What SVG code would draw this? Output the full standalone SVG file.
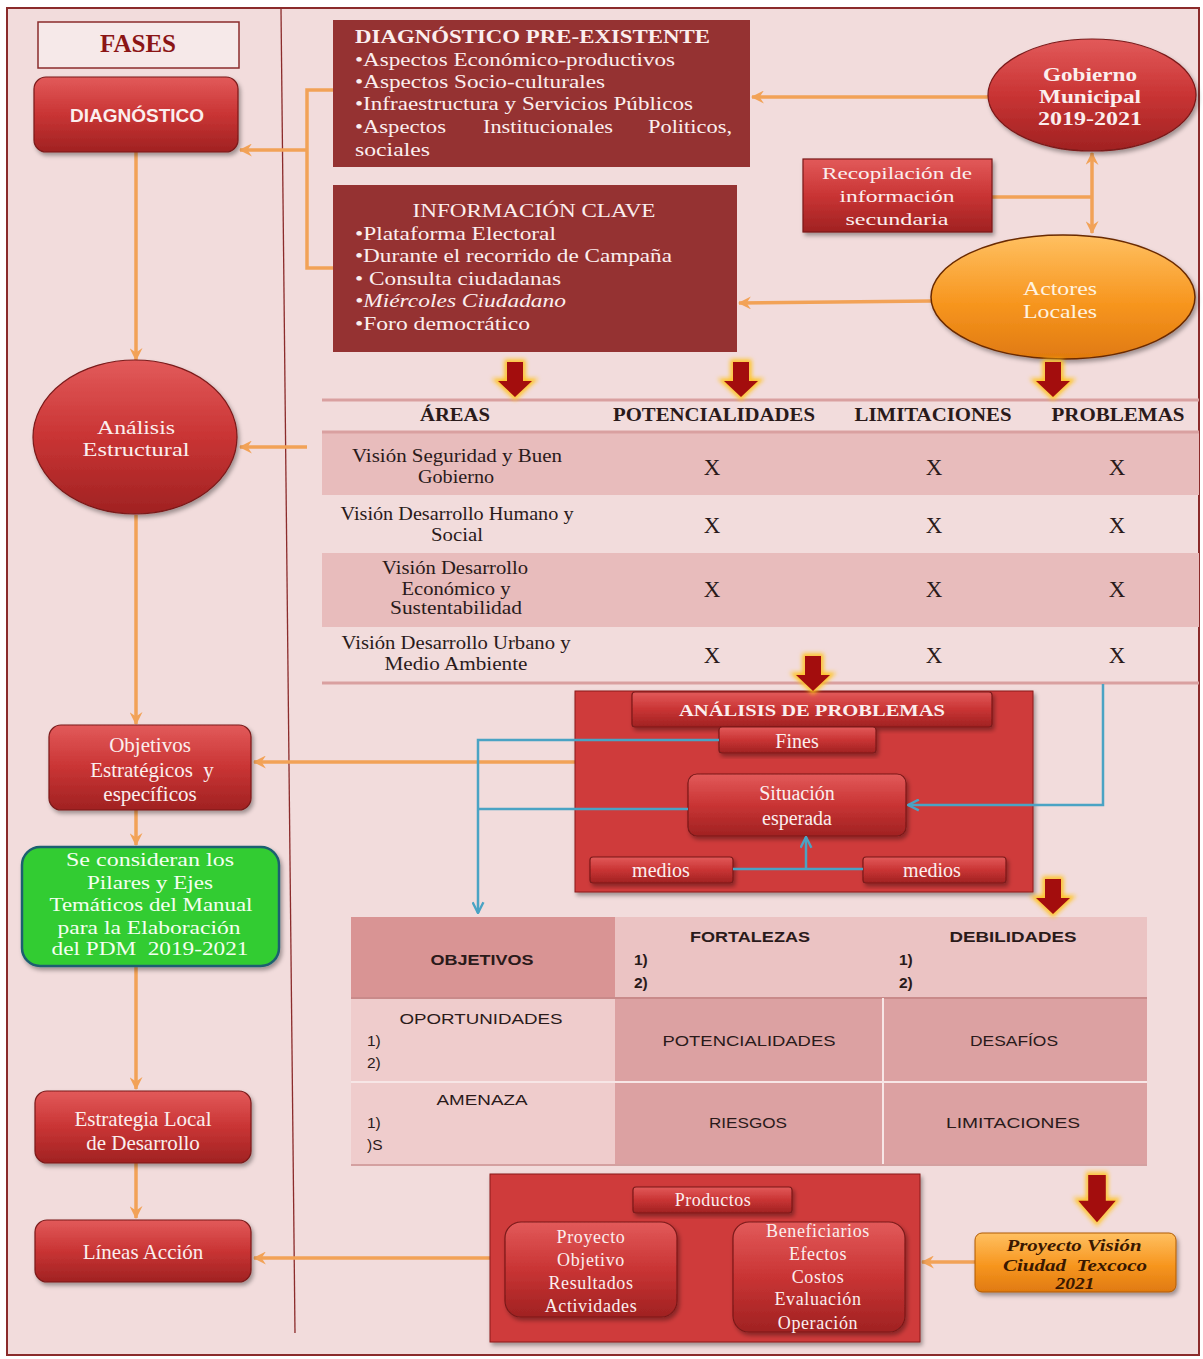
<svg xmlns="http://www.w3.org/2000/svg" xmlns:xlink="http://www.w3.org/1999/xlink" width="1203" height="1359" viewBox="0 0 1203 1359">
<style>
.serif{font-family:"Liberation Serif","DejaVu Serif",serif;}
.sans{font-family:"Liberation Sans","DejaVu Sans",sans-serif;}
.wt{fill:#fbeeee;}
.dk{fill:#2a1a1a;}
.c{text-anchor:middle;}
.or{stroke:#f2a257;stroke-width:3.5;fill:none;}
.bl{stroke:#4aa3c4;stroke-width:2.5;fill:none;}
.node{fill:url(#redG);stroke:#7a1a1a;stroke-width:1.2;filter:url(#sh);}
.dbox{fill:#953232;}
.row{fill:#e8bcbc;}
.hl{stroke:#d9a0a0;stroke-width:3;}
</style>
<defs>
<linearGradient id="redG" x1="0" y1="0" x2="0" y2="1">
<stop offset="0" stop-color="#e25a5a"/>
<stop offset="0.5" stop-color="#c93434"/>
<stop offset="1" stop-color="#a02222"/>
</linearGradient>
<linearGradient id="orG" x1="0" y1="0" x2="0" y2="1">
<stop offset="0" stop-color="#ffc061"/>
<stop offset="0.55" stop-color="#f7961f"/>
<stop offset="1" stop-color="#e07a10"/>
</linearGradient>
<filter id="sh" x="-10%" y="-10%" width="125%" height="130%">
<feDropShadow dx="2" dy="3" stdDeviation="2" flood-color="#000" flood-opacity="0.35"/>
</filter>
<filter id="glow" x="-50%" y="-50%" width="200%" height="200%">
<feGaussianBlur stdDeviation="2"/>
</filter>
<marker id="ao" viewBox="0 0 12 12" refX="11" refY="6" markerWidth="13" markerHeight="13" markerUnits="userSpaceOnUse" orient="auto">
<path d="M0,0 L12,6 L0,12 L4,6 Z" fill="#f2a257"/>
</marker>
<marker id="ab" viewBox="0 0 12 12" refX="11" refY="6" markerWidth="13" markerHeight="13" markerUnits="userSpaceOnUse" orient="auto">
<path d="M1,1 L11,6 L1,11" fill="none" stroke="#4aa3c4" stroke-width="2.2"/>
</marker>
<path id="darr" d="M-8,0 H8 V19 H17 L0,35 L-17,19 H-8 Z"/>
</defs>

<rect x="0" y="0" width="1203" height="1359" fill="#ffffff"/>
<rect id="frame" x="7" y="8" width="1192" height="1347" fill="#f2dcdc" stroke="#8b2b2b" stroke-width="2"/>
<line x1="281" y1="9" x2="295" y2="1333" stroke="#8b2b2b" stroke-width="1.3"/>

<!-- table A -->
<g id="table-areas">
<rect class="row" x="322" y="433" width="877" height="62"/>
<rect class="row" x="322" y="553" width="877" height="74"/>
<line class="hl" x1="322" y1="400" x2="1199" y2="400"/>
<line class="hl" x1="322" y1="432" x2="1199" y2="432"/>
<line class="hl" x1="322" y1="683" x2="1199" y2="683"/>
<g class="serif dk" font-weight="bold" font-size="18">
<text class="c" x="455" y="421" textLength="70" lengthAdjust="spacingAndGlyphs">ÁREAS</text>
<text class="c" x="714" y="421" textLength="202" lengthAdjust="spacingAndGlyphs">POTENCIALIDADES</text>
<text class="c" x="933" y="421" textLength="157" lengthAdjust="spacingAndGlyphs">LIMITACIONES</text>
<text class="c" x="1118" y="421" textLength="133" lengthAdjust="spacingAndGlyphs">PROBLEMAS</text>
</g>
<g class="serif dk c" font-size="18">
<text x="457" y="462" textLength="210" lengthAdjust="spacingAndGlyphs">Visión Seguridad y Buen</text>
<text x="456" y="483" textLength="76" lengthAdjust="spacingAndGlyphs">Gobierno</text>
<text x="457" y="520" textLength="233" lengthAdjust="spacingAndGlyphs">Visión Desarrollo Humano y</text>
<text x="457" y="541" textLength="52" lengthAdjust="spacingAndGlyphs">Social</text>
<text x="455" y="574" textLength="146" lengthAdjust="spacingAndGlyphs">Visión Desarrollo</text>
<text x="456" y="595" textLength="109" lengthAdjust="spacingAndGlyphs">Económico y</text>
<text x="456" y="614" textLength="132" lengthAdjust="spacingAndGlyphs">Sustentabilidad</text>
<text x="456" y="649" textLength="229" lengthAdjust="spacingAndGlyphs">Visión Desarrollo Urbano y</text>
<text x="456" y="670" textLength="143" lengthAdjust="spacingAndGlyphs">Medio Ambiente</text>
</g>
<g class="serif dk c" font-size="23">
<text x="712" y="475">X</text><text x="934" y="475">X</text><text x="1117" y="475">X</text>
<text x="712" y="533">X</text><text x="934" y="533">X</text><text x="1117" y="533">X</text>
<text x="712" y="597">X</text><text x="934" y="597">X</text><text x="1117" y="597">X</text>
<text x="712" y="663">X</text><text x="934" y="663">X</text><text x="1117" y="663">X</text>
</g>
</g>

<!-- SWOT table -->
<g id="table-foda">
<rect x="351" y="917" width="264" height="81" fill="#d99494"/>
<rect x="615" y="917" width="532" height="81" fill="#ebc3c3"/>
<rect x="351" y="998" width="264" height="167" fill="#efcccc"/>
<rect x="615" y="998" width="532" height="167" fill="#dca1a2"/>
<line x1="351" y1="998" x2="1147" y2="998" stroke="#c98a8a" stroke-width="2"/>
<line x1="351" y1="1082" x2="1147" y2="1082" stroke="#f7e6e6" stroke-width="2"/>
<line x1="883" y1="998" x2="883" y2="1165" stroke="#f7e6e6" stroke-width="2"/>
<line x1="351" y1="1165" x2="1147" y2="1165" stroke="#d4a0a0" stroke-width="2"/>
<g class="sans dk" font-size="15.5">
<text class="c" x="482" y="965" font-weight="bold" textLength="103" lengthAdjust="spacingAndGlyphs">OBJETIVOS</text>
<text class="c" x="750" y="942" font-weight="bold" textLength="120" lengthAdjust="spacingAndGlyphs">FORTALEZAS</text>
<text x="634" y="965" font-weight="bold">1)</text>
<text x="634" y="988" font-weight="bold">2)</text>
<text class="c" x="1013" y="942" font-weight="bold" textLength="127" lengthAdjust="spacingAndGlyphs">DEBILIDADES</text>
<text x="899" y="965" font-weight="bold">1)</text>
<text x="899" y="988" font-weight="bold">2)</text>
<text class="c" x="481" y="1024" textLength="163" lengthAdjust="spacingAndGlyphs">OPORTUNIDADES</text>
<text x="367" y="1046">1)</text>
<text x="367" y="1068">2)</text>
<text class="c" x="749" y="1046" textLength="173" lengthAdjust="spacingAndGlyphs">POTENCIALIDADES</text>
<text class="c" x="1014" y="1046" textLength="88" lengthAdjust="spacingAndGlyphs">DESAFÍOS</text>
<text class="c" x="482" y="1105" textLength="91" lengthAdjust="spacingAndGlyphs">AMENAZA</text>
<text x="367" y="1128">1)</text>
<text x="367" y="1150">)S</text>
<text class="c" x="748" y="1128" textLength="78" lengthAdjust="spacingAndGlyphs">RIESGOS</text>
<text class="c" x="1013" y="1128" textLength="134" lengthAdjust="spacingAndGlyphs">LIMITACIONES</text>
</g>
</g>

<!-- connectors -->
<g id="connectors">
<line class="or" x1="136" y1="152" x2="136" y2="360" marker-end="url(#ao)"/>
<line class="or" x1="136" y1="515" x2="136" y2="724" marker-end="url(#ao)"/>
<line class="or" x1="136" y1="810" x2="136" y2="845" marker-end="url(#ao)"/>
<line class="or" x1="136" y1="966" x2="136" y2="1089" marker-end="url(#ao)"/>
<line class="or" x1="136" y1="1163" x2="136" y2="1218" marker-end="url(#ao)"/>
<polyline class="or" points="333,90 307,90 307,268 333,268"/>
<line class="or" x1="307" y1="150" x2="240" y2="150" marker-end="url(#ao)"/>
<line class="or" x1="307" y1="447" x2="240" y2="447" marker-end="url(#ao)"/>
<line class="or" x1="988" y1="97" x2="752" y2="97" marker-end="url(#ao)"/>
<line class="or" x1="931" y1="301" x2="739" y2="303" marker-end="url(#ao)"/>
<line class="or" x1="992" y1="197" x2="1092" y2="197"/>
<line class="or" x1="1092" y1="197" x2="1092" y2="153" marker-end="url(#ao)"/>
<line class="or" x1="1092" y1="197" x2="1092" y2="233" marker-end="url(#ao)"/>
<line class="or" x1="575" y1="762" x2="254" y2="762" marker-end="url(#ao)"/>
<line class="or" x1="490" y1="1258" x2="254" y2="1258" marker-end="url(#ao)"/>
<line class="or" x1="975" y1="1262" x2="922" y2="1262" marker-end="url(#ao)"/>
</g>

<!-- left column nodes -->
<g id="fases">
<rect x="38" y="22" width="201" height="46" fill="#f6e9e9" stroke="#8b2b2b" stroke-width="1.5"/>
<text class="serif c" x="138" y="52" font-size="25" font-weight="bold" fill="#8b1515">FASES</text>
</g>
<g id="diagnostico">
<rect class="node" x="34" y="77" width="204" height="75" rx="12"/>
<text class="sans c wt" x="137" y="122" font-size="19" font-weight="bold">DIAGNÓSTICO</text>
</g>
<g id="analisis-estructural">
<ellipse class="node" cx="135" cy="437" rx="102" ry="77"/>
<text class="serif c wt" x="136" y="434" font-size="19" textLength="78" lengthAdjust="spacingAndGlyphs">Análisis</text>
<text class="serif c wt" x="136" y="456" font-size="19" textLength="107" lengthAdjust="spacingAndGlyphs">Estructural</text>
</g>
<g id="objetivos">
<rect class="node" x="49" y="725" width="202" height="85" rx="12"/>
<text class="serif c wt" x="150" y="752" font-size="21">Objetivos</text>
<text class="serif c wt" x="152" y="777" font-size="21" xml:space="preserve">Estratégicos  y</text>
<text class="serif c wt" x="150" y="801" font-size="21">específicos</text>
</g>
<g id="pilares">
<rect x="22" y="847" width="257" height="119" rx="18" fill="#33cc33" stroke="#1f5f6f" stroke-width="2.5" filter="url(#sh)"/>
<g class="serif c" fill="#f4fff0" font-size="18">
<text x="150" y="866" textLength="168" lengthAdjust="spacingAndGlyphs">Se consideran los</text>
<text x="150" y="889" textLength="126" lengthAdjust="spacingAndGlyphs">Pilares y Ejes</text>
<text x="151" y="911" textLength="203" lengthAdjust="spacingAndGlyphs">Temáticos del Manual</text>
<text x="149" y="934" textLength="183" lengthAdjust="spacingAndGlyphs">para la Elaboración</text>
<text x="150" y="955" textLength="197" lengthAdjust="spacingAndGlyphs" xml:space="preserve">del PDM  2019-2021</text>
</g>
</g>
<g id="estrategia">
<rect class="node" x="35" y="1091" width="216" height="72" rx="12"/>
<text class="serif c wt" x="143" y="1126" font-size="21">Estrategia Local</text>
<text class="serif c wt" x="143" y="1150" font-size="21">de Desarrollo</text>
</g>
<g id="lineas-accion">
<rect class="node" x="35" y="1220" width="216" height="62" rx="12"/>
<text class="serif c wt" x="143" y="1259" font-size="21">Líneas Acción</text>
</g>

<!-- right column nodes -->
<g id="diag-preexistente">
<rect class="dbox" x="333" y="20" width="417" height="147"/>
<g class="serif wt" font-size="18">
<text x="355" y="43" font-size="19" font-weight="bold" textLength="355" lengthAdjust="spacingAndGlyphs">DIAGNÓSTICO PRE-EXISTENTE</text>
<text x="355" y="66" textLength="320" lengthAdjust="spacingAndGlyphs">•Aspectos Económico-productivos</text>
<text x="355" y="88" textLength="250" lengthAdjust="spacingAndGlyphs">•Aspectos Socio-culturales</text>
<text x="355" y="110" textLength="338" lengthAdjust="spacingAndGlyphs">•Infraestructura y Servicios Públicos</text>
<text x="355" y="133" textLength="91" lengthAdjust="spacingAndGlyphs">•Aspectos</text>
<text x="483" y="133" textLength="130" lengthAdjust="spacingAndGlyphs">Institucionales</text>
<text x="648" y="133" textLength="84" lengthAdjust="spacingAndGlyphs">Politicos,</text>
<text x="355" y="156" textLength="75" lengthAdjust="spacingAndGlyphs">sociales</text>
</g>
</g>
<g id="info-clave">
<rect class="dbox" x="333" y="185" width="404" height="167"/>
<g class="serif wt" font-size="18">
<text class="c" x="534" y="217" font-size="19" textLength="243" lengthAdjust="spacingAndGlyphs">INFORMACIÓN CLAVE</text>
<text x="355" y="240" textLength="201" lengthAdjust="spacingAndGlyphs">•Plataforma Electoral</text>
<text x="355" y="262" textLength="317" lengthAdjust="spacingAndGlyphs">•Durante el recorrido de Campaña</text>
<text x="355" y="285" textLength="206" lengthAdjust="spacingAndGlyphs">• Consulta ciudadanas</text>
<text x="355" y="307" font-style="italic" textLength="211" lengthAdjust="spacingAndGlyphs">•Miércoles Ciudadano</text>
<text x="355" y="330" textLength="175" lengthAdjust="spacingAndGlyphs">•Foro democrático</text>
</g>
</g>
<g id="gobierno">
<ellipse class="node" cx="1092" cy="95" rx="104" ry="56" stroke="#5a1010"/>
<g class="serif c wt" font-size="18" font-weight="bold">
<text x="1090" y="81" textLength="94" lengthAdjust="spacingAndGlyphs">Gobierno</text>
<text x="1090" y="103" textLength="102" lengthAdjust="spacingAndGlyphs">Municipal</text>
<text x="1090" y="125" textLength="104" lengthAdjust="spacingAndGlyphs">2019-2021</text>
</g>
</g>
<g id="recopilacion">
<rect class="node" x="803" y="159" width="189" height="73"/>
<g class="serif c wt" font-size="17">
<text x="897" y="179" textLength="150" lengthAdjust="spacingAndGlyphs">Recopilación de</text>
<text x="897" y="202" textLength="115" lengthAdjust="spacingAndGlyphs">información</text>
<text x="897" y="225" textLength="103" lengthAdjust="spacingAndGlyphs">secundaria</text>
</g>
</g>
<g id="actores">
<ellipse cx="1063" cy="297" rx="132" ry="62" fill="url(#orG)" stroke="#6a2a00" stroke-width="1.5" filter="url(#sh)"/>
<text class="serif c" x="1060" y="295" font-size="18" fill="#fff3e0" textLength="74" lengthAdjust="spacingAndGlyphs">Actores</text>
<text class="serif c" x="1060" y="318" font-size="18" fill="#fff3e0" textLength="74" lengthAdjust="spacingAndGlyphs">Locales</text>
</g>

<g id="analisis-problemas">
<rect x="575" y="691" width="458" height="201" fill="#cf3a3a" stroke="#8a1a1a" stroke-width="1" filter="url(#sh)"/>
<rect class="node" x="632" y="692" width="360" height="35" rx="3"/>
<text class="serif c wt" x="812" y="716" font-size="17" font-weight="bold" textLength="266" lengthAdjust="spacingAndGlyphs">ANÁLISIS DE PROBLEMAS</text>
<rect class="node" x="719" y="727" width="157" height="26" rx="3"/>
<text class="serif c wt" x="797" y="748" font-size="20">Fines</text>
<rect class="node" x="688" y="774" width="218" height="62" rx="9"/>
<text class="serif c wt" x="797" y="800" font-size="20">Situación</text>
<text class="serif c wt" x="797" y="825" font-size="20">esperada</text>
<rect class="node" x="590" y="857" width="143" height="26" rx="3"/>
<text class="serif c wt" x="661" y="877" font-size="20">medios</text>
<rect class="node" x="863" y="857" width="143" height="26" rx="3"/>
<text class="serif c wt" x="932" y="877" font-size="20">medios</text>
</g>

<g id="productos">
<rect x="490" y="1174" width="430" height="168" fill="#cf3a3a" stroke="#8a1a1a" stroke-width="1" filter="url(#sh)"/>
<rect class="node" x="633" y="1187" width="159" height="26" rx="3"/>
<text class="serif c wt" x="713" y="1206" font-size="18" letter-spacing="0.5">Productos</text>
<rect class="node" x="505" y="1222" width="172" height="95" rx="16"/>
<g class="serif c wt" font-size="18" letter-spacing="0.6">
<text x="591" y="1243">Proyecto</text>
<text x="591" y="1266">Objetivo</text>
<text x="591" y="1289">Resultados</text>
<text x="591" y="1312">Actividades</text>
</g>
<rect class="node" x="733" y="1222" width="172" height="110" rx="16"/>
<g class="serif c wt" font-size="18" letter-spacing="0.6">
<text x="818" y="1237">Beneficiarios</text>
<text x="818" y="1260">Efectos</text>
<text x="818" y="1283">Costos</text>
<text x="818" y="1305">Evaluación</text>
<text x="818" y="1329">Operación</text>
</g>
</g>

<g id="proyecto-vision">
<rect x="975" y="1233" width="201" height="59" rx="7" fill="url(#orG)" stroke="#b05a00" stroke-width="1" filter="url(#sh)"/>
<g class="serif c" font-size="17" font-weight="bold" font-style="italic" fill="#3a1800">
<text x="1074" y="1251" textLength="135" lengthAdjust="spacingAndGlyphs">Proyecto Visión</text>
<text x="1075" y="1271" textLength="144" lengthAdjust="spacingAndGlyphs" xml:space="preserve">Ciudad  Texcoco</text>
<text x="1075" y="1289" textLength="39" lengthAdjust="spacingAndGlyphs">2021</text>
</g>
</g>

<!-- blue connectors -->
<g id="connectors-blue">
<polyline class="bl" points="719,740 478,740 478,913" marker-end="url(#ab)"/>
<line class="bl" x1="688" y1="809" x2="478" y2="809"/>
<polyline class="bl" points="1103,684 1103,805 908,805" marker-end="url(#ab)"/>
<line class="bl" x1="733" y1="869" x2="863" y2="869"/>
<line class="bl" x1="806" y1="869" x2="806" y2="837" marker-end="url(#ab)"/>
</g>

<!-- red down arrows -->
<g id="red-arrows">
<g transform="translate(515,362)"><use href="#darr" fill="none" stroke="#ffc21a" stroke-width="5" filter="url(#glow)"/><use href="#darr" fill="#a30d0d"/></g>
<g transform="translate(741,362)"><use href="#darr" fill="none" stroke="#ffc21a" stroke-width="5" filter="url(#glow)"/><use href="#darr" fill="#a30d0d"/></g>
<g transform="translate(1053,362)"><use href="#darr" fill="none" stroke="#ffc21a" stroke-width="5" filter="url(#glow)"/><use href="#darr" fill="#a30d0d"/></g>
<g transform="translate(813,656)"><use href="#darr" fill="none" stroke="#ffc21a" stroke-width="5" filter="url(#glow)"/><use href="#darr" fill="#a30d0d"/></g>
<g transform="translate(1053,879)"><use href="#darr" fill="none" stroke="#ffc21a" stroke-width="5" filter="url(#glow)"/><use href="#darr" fill="#a30d0d"/></g>
<g transform="translate(1097,1175) scale(1.1,1.35)"><use href="#darr" fill="none" stroke="#ffc21a" stroke-width="4" filter="url(#glow)"/><use href="#darr" fill="#a30d0d"/></g>
</g>
</svg>
